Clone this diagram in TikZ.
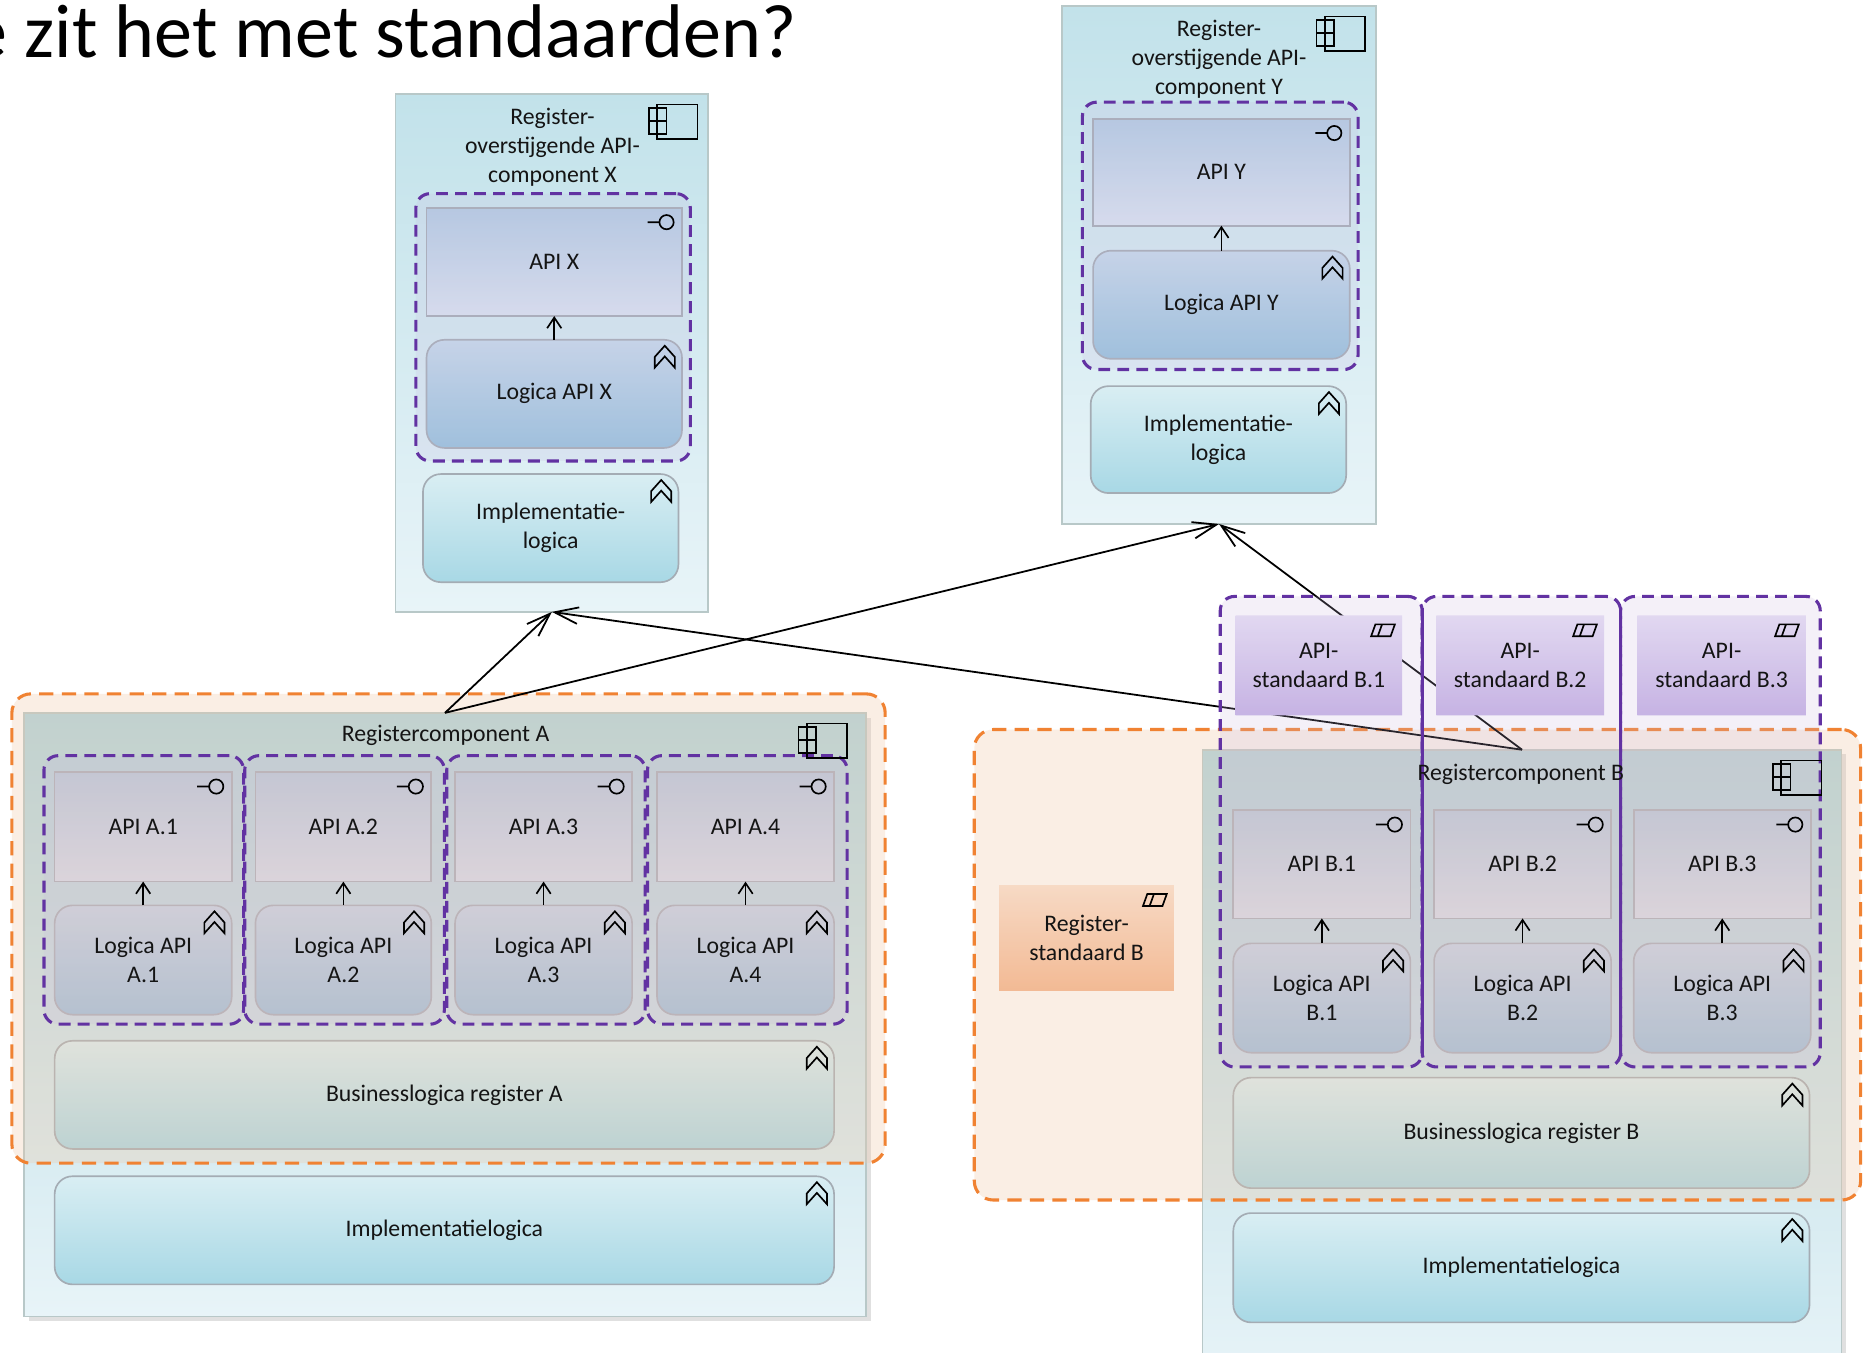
\documentclass[tikz,border=0pt]{standalone}
\usepackage{fontspec}
\setmainfont{Carlito}
\usetikzlibrary{arrows.meta,shapes.misc,shadows}

\definecolor{cmpTop}{HTML}{C2E2EA}
\definecolor{cmpBot}{HTML}{E8F4F8}
\definecolor{cmpLine}{HTML}{B8C8C8}
\definecolor{rcTop}{HTML}{AED6E0}
\definecolor{rcBot}{HTML}{E8F4F8}
\definecolor{boxLine}{HTML}{A4ACB4}
\definecolor{apiTop}{HTML}{B2CCE2}
\definecolor{apiBot}{HTML}{DAE4F0}
\definecolor{logTop}{HTML}{C6DAEA}
\definecolor{logBot}{HTML}{96C2DC}
\definecolor{impTop}{HTML}{D9EEF3}
\definecolor{impBot}{HTML}{A8D8E5}
\definecolor{stdTop}{HTML}{E8E0F5}
\definecolor{stdBot}{HTML}{C6B2E5}
\definecolor{rstTop}{HTML}{FBE2D2}
\definecolor{rstBot}{HTML}{F4B48C}
\definecolor{grpP}{HTML}{6232A2}
\definecolor{grpPfill}{HTML}{C8B8E0}
\definecolor{grpO}{HTML}{F08232}
\definecolor{grpOfill}{HTML}{F0C8A8}
\definecolor{txt}{HTML}{141414}

% box from (x1,y1) to (x2,y2) in picture units
\newcommand\bx[6]{\node[#6,minimum width={(#4-#2)*0.5pt},minimum height={(#5-#3)*0.5pt}] (#1) at ({(#2+#4)/2},{(#3+#5)/2}) {};}
\newcommand\lb[2]{\node[lbl] (t#1) at (#1.center) {#2};}
\newcommand\ifcicon[1]{\draw[icon] ([xshift=-6.5pt,yshift=-6pt]#1.north east) circle[radius=3pt] ([xshift=-14.5pt,yshift=-6pt]#1.north east) -- ([xshift=-9.5pt,yshift=-6pt]#1.north east);}
\newcommand\fnicon[1]{\draw[icon,line join=miter] ([xshift=-7.25pt,yshift=-2.5pt]#1.north east) -- ++(4.25pt,-4.75pt) -- ++(0pt,-4.5pt) -- ++(-4.25pt,4.75pt) -- ++(-4.25pt,-4.75pt) -- ++(0pt,4.5pt) -- cycle;}
\newcommand\stdicon[1]{\coordinate (#1ne) at (#1.north -| #1.east);
  \draw[icon] ([xshift=-13pt,yshift=-8.75pt]#1ne) -- ++(1.8pt,5pt) -- ++(8.2pt,0pt) -- ++(-1.8pt,-5pt) -- cycle
    ([xshift=-10.2pt,yshift=-8.75pt]#1ne) -- ++(1.8pt,5pt);}
\newcommand\compicon[2]{\draw[icon] ({#1-34},{#2}) rectangle ({#1},{#2+29})
  ({#1-41},{#2+3}) rectangle ({#1-26},{#2+14}) ({#1-41},{#2+14}) rectangle ({#1-26},{#2+25});}

\begin{document}
\begin{tikzpicture}[x=0.5pt,y=-0.5pt,
  font=\fontsize{10}{12.3}\selectfont,
  base/.style={inner sep=0pt,outer sep=0pt},
  cont/.style={base,draw=cmpLine,line width=0.7pt,top color=cmpTop,bottom color=cmpBot},
  rcbox/.style={base,draw=cmpLine,line width=0.7pt,top color=rcTop,bottom color=rcBot,
     drop shadow={shadow xshift=2pt,shadow yshift=-2pt,opacity=0.12,fill=black}},
  ifc/.style={base,draw=boxLine,line width=0.7pt,top color=apiTop,bottom color=apiBot},
  fn/.style={base,draw=boxLine,line width=0.7pt,rounded corners=7.5pt,top color=logTop,bottom color=logBot},
  impl/.style={fn,top color=impTop,bottom color=impBot},
  std/.style={base,chamfered rectangle,chamfered rectangle xsep=3pt,chamfered rectangle ysep=3pt,
     top color=stdTop,bottom color=stdBot},
  rstd/.style={std,top color=rstTop,bottom color=rstBot},
  grpp/.style={base,draw=grpP,line width=1.3pt,dash pattern=on 5pt off 3pt,rounded corners=6pt,
     fill=grpPfill,fill opacity=0.2},
  grpo/.style={base,draw=grpO,line width=1.3pt,dash pattern=on 6pt off 3.5pt,rounded corners=8pt,
     fill=grpOfill,fill opacity=0.3},
  conn/.style={draw=black,line width=0.75pt,-{Straight Barb[length=10pt,width=7pt,line width=0.75pt]}},
  sarr/.style={draw=black,line width=0.7pt,-{Straight Barb[length=4.5pt,width=6pt,line width=0.7pt]}},
  icon/.style={draw=black,line width=0.7pt},
  lbl/.style={base,align=center,text=txt},
]
\useasboundingbox (0,0) rectangle (1568,1138);
\clip (0,0) rectangle (1568,1138);
\fill[white] (0,0) rectangle (1568,1138);

% title (cut off at the left edge, as in the reference)
\node[anchor=base east,font=\fontsize{32}{38}\selectfont,text=black,inner sep=0pt] (title) at (671,48) {e zit het met standaarden?};

% ---------- component X ----------
\bx{X}{333}{79}{596}{515}{cont}
\bx{AX}{359}{175}{574}{266}{ifc}
\bx{LX}{359}{286}{574}{377}{fn}
\bx{IX}{356}{399}{571}{490}{impl}
\bx{PX}{350}{163}{581}{388}{grpp}

% ---------- component Y ----------
\bx{Y}{894}{5}{1158}{441}{cont}
\bx{AY}{920}{100}{1136}{190}{ifc}
\bx{LY}{920}{211}{1136}{302}{fn}
\bx{IY}{918}{325}{1133}{415}{impl}
\bx{PY}{911}{86}{1143}{311}{grpp}

% ---------- register component A ----------
\bx{RA}{20}{600}{729}{1108}{rcbox}
\bx{A1}{46}{650}{195}{742}{ifc}
\bx{A2}{215}{650}{363}{742}{ifc}
\bx{A3}{383}{650}{532}{742}{ifc}
\bx{A4}{553}{650}{702}{742}{ifc}
\bx{LA1}{46}{762}{195}{854}{fn}
\bx{LA2}{215}{762}{363}{854}{fn}
\bx{LA3}{383}{762}{532}{854}{fn}
\bx{LA4}{553}{762}{702}{854}{fn}
\bx{BA}{46}{876}{702}{967}{impl}
\bx{IA}{46}{990}{702}{1081}{impl}
\bx{OA}{10}{584}{745}{979}{grpo}
\bx{PA1}{37}{636}{205}{862}{grpp}
\bx{PA2}{206}{636}{374}{862}{grpp}
\bx{PA3}{376}{636}{543}{862}{grpp}
\bx{PA4}{545}{636}{713}{862}{grpp}

% ---------- register component B ----------
\bx{RB}{1012}{631}{1550}{1170}{rcbox}
\bx{B1}{1038}{682}{1187}{773}{ifc}
\bx{B2}{1207}{682}{1356}{773}{ifc}
\bx{B3}{1375}{682}{1524}{773}{ifc}
\bx{LB1}{1038}{794}{1187}{886}{fn}
\bx{LB2}{1207}{794}{1356}{886}{fn}
\bx{LB3}{1375}{794}{1524}{886}{fn}
\bx{BB}{1038}{907}{1523}{1000}{impl}
\bx{IB}{1038}{1021}{1523}{1113}{impl}
\bx{RS}{841}{745}{988}{834}{rstd}
\bx{OB}{820}{614}{1566}{1010}{grpo}

% ---------- connectors ----------
\draw[conn] (RA.north) -- (X.south);
\draw[conn] (RA.north) -- (Y.south);
\draw[conn] (RB.north) -- (X.south);
\draw[conn] (RB.north) -- (Y.south);

% ---------- API standards ----------
\bx{S1}{1040}{518}{1180}{602}{std}
\bx{S2}{1209}{518}{1350}{602}{std}
\bx{S3}{1378}{518}{1520}{602}{std}
\bx{PB1}{1027}{502}{1197}{898}{grpp}
\bx{PB2}{1197}{502}{1364}{898}{grpp}
\bx{PB3}{1364}{502}{1532}{898}{grpp}
\draw[draw=grpP,line width=1.3pt] ([yshift=-5pt]PB1.north east) -- ([yshift=5pt]PB1.south east);
\draw[draw=grpP,line width=1.3pt] ([yshift=-5pt]PB2.north east) -- ([yshift=5pt]PB2.south east);

% ---------- internal arrows ----------
\draw[sarr] (LX.north) -- (AX.south);
\draw[sarr] (LY.north) -- (AY.south);
\foreach \i in {1,2,3,4}{\draw[sarr] (LA\i.north) -- (A\i.south);}
\foreach \i in {1,2,3}{\draw[sarr] (LB\i.north) -- (B\i.south);}

% ---------- icons ----------
\compicon{587}{88}
\compicon{1149}{14}
\compicon{713}{609}
\compicon{1533}{640}
\foreach \n in {AX,AY,A1,A2,A3,A4,B1,B2,B3}{\ifcicon{\n}}
\foreach \n in {LX,IX,LY,IY,LA1,LA2,LA3,LA4,BA,IA,LB1,LB2,LB3,BB,IB}{\fnicon{\n}}
\foreach \n in {S1,S2,S3,RS}{\stdicon{\n}}

% ---------- labels ----------
\node[lbl] (tX) at (465,124) {Register-\\overstijgende API-\\component X};
\node[lbl] (tY) at (1026,50) {Register-\\overstijgende API-\\component Y};
\lb{AX}{API X}
\lb{LX}{Logica API X}
\lb{IX}{Implementatie-\\logica}
\lb{AY}{API Y}
\lb{LY}{Logica API Y}
\lb{IY}{Implementatie-\\logica}
\node[lbl] (tRA) at (375,619) {Registercomponent A};
\lb{A1}{API A.1}
\lb{A2}{API A.2}
\lb{A3}{API A.3}
\lb{A4}{API A.4}
\lb{LA1}{Logica API\\A.1}
\lb{LA2}{Logica API\\A.2}
\lb{LA3}{Logica API\\A.3}
\lb{LA4}{Logica API\\A.4}
\lb{BA}{Businesslogica register A}
\lb{IA}{Implementatielogica}
\node[lbl] (tRB) at (1280,652) {Registercomponent B};
\lb{S1}{API-\\standaard B.1}
\lb{S2}{API-\\standaard B.2}
\lb{S3}{API-\\standaard B.3}
\lb{B1}{API B.1}
\lb{B2}{API B.2}
\lb{B3}{API B.3}
\lb{LB1}{Logica API\\B.1}
\lb{LB2}{Logica API\\B.2}
\lb{LB3}{Logica API\\B.3}
\lb{BB}{Businesslogica register B}
\lb{IB}{Implementatielogica}
\lb{RS}{Register-\\standaard B}
\end{tikzpicture}
\end{document}
